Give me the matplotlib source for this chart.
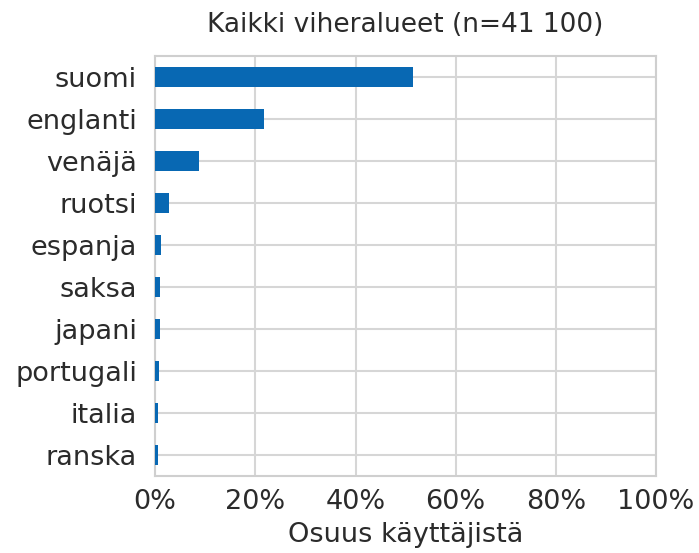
import matplotlib.pyplot as plt
from matplotlib.ticker import PercentFormatter

# kielten osuudet käyttäjistä (%), kaikki viheralueet
kielet = ["suomi", "englanti", "venäjä", "ruotsi", "espanja", "saksa",
          "japani", "portugali", "italia", "ranska"]
osuudet = [51.5, 21.8, 8.8, 2.8, 1.1, 1.0, 0.9, 0.8, 0.6, 0.5]
x_ticks = [0, 20, 40, 60, 80, 100]

fig = plt.figure(figsize=(6.99, 5.53), dpi=100)
ax = fig.add_axes([0.222, 0.139, 0.7165, 0.760])

y = list(range(len(kielet)))
ax.barh(y, osuudet, height=0.48, color="#0868b3", zorder=3)

ax.set_yticks(y)
ax.set_yticklabels(kielet)
ax.set_ylim(len(kielet) - 0.5, -0.5)
ax.set_xlim(0, 100)
ax.set_xticks(x_ticks)
ax.xaxis.set_major_formatter(PercentFormatter(decimals=0))

ax.grid(True, color="#d6d6d6", linewidth=1.5, zorder=0)
for s in ax.spines.values():
    s.set_color("#cfcfcf")
    s.set_linewidth(1.5)

ax.tick_params(axis="both", length=0, labelsize=19.5, colors="#2b2b2b")
ax.tick_params(axis="y", pad=13)
ax.tick_params(axis="x", pad=9)

ax.set_title("Kaikki viheralueet (n=41 100)", fontsize=19, color="#2b2b2b", pad=17)
ax.set_xlabel("Osuus käyttäjistä", fontsize=19.5, color="#2b2b2b", labelpad=5)

fig.savefig("out.png", dpi=100)
